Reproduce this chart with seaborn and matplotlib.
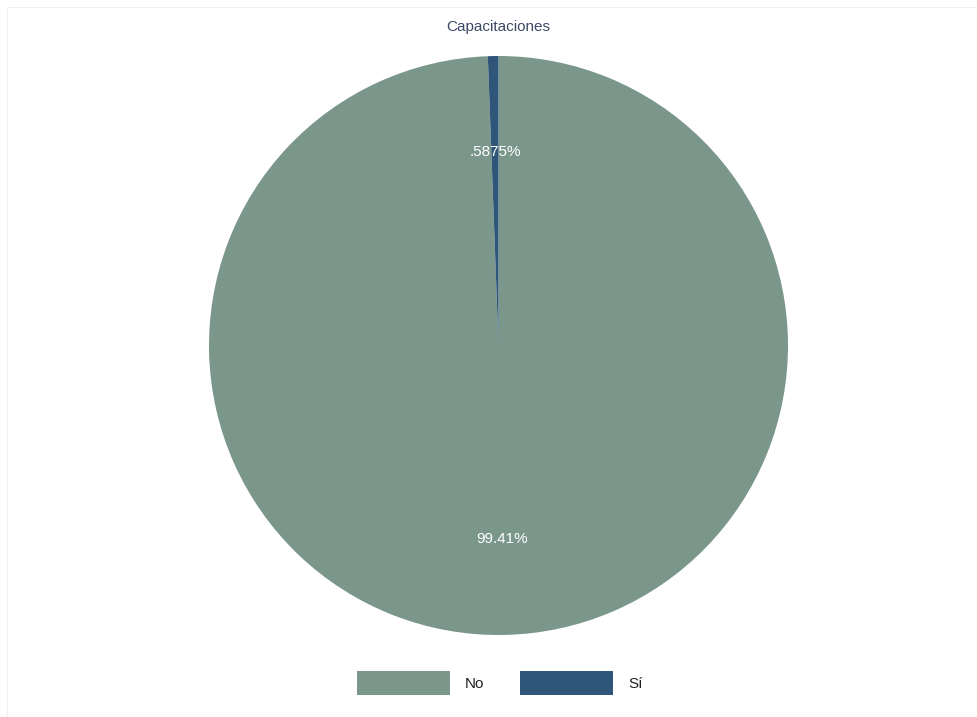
import matplotlib
matplotlib.use("Agg")
import matplotlib.pyplot as plt
from matplotlib.patches import Patch
from matplotlib.lines import Line2D
import seaborn as sns

# Survey answers: did the respondent receive training?
categories = ["No", "Sí"]
shares = [99.4125, 0.5875]
slice_colors = ["#7b978b", "#2f5579"]
chart_title = "Capacitaciones"


def pct_label(value):
    text = f"{value:.4g}"
    if text.startswith("0."):
        text = text[1:]
    return text + "%"


sns.set_theme(style="white")
plt.rcParams["font.family"] = ["Liberation Sans", "DejaVu Sans"]

W, H = 978, 717
fig = plt.figure(figsize=(W / 100, H / 100), dpi=100)
fig.patch.set_facecolor("white")

# faint outer frame (top and left edges)
fig.add_artist(Line2D([7 / W, 1], [1 - 7 / H, 1 - 7 / H], transform=fig.transFigure,
                      color="#f0f0f0", lw=0.8))
fig.add_artist(Line2D([7 / W, 7 / W], [0, 1 - 7 / H], transform=fig.transFigure,
                      color="#f0f0f0", lw=0.8))

radius_px = 289.5
cx, cy = 498.5, 345.5
ax = fig.add_axes([(cx - radius_px) / W, (H - cy - radius_px) / H,
                   2 * radius_px / W, 2 * radius_px / H])

label_iter = iter([pct_label(v) for v in shares])
wedges, _, autotexts = ax.pie(
    shares,
    colors=slice_colors,
    startangle=90,
    counterclock=False,
    radius=1.0,
    autopct=lambda p: next(label_iter),
    pctdistance=0.667,
    wedgeprops=dict(linewidth=0),
    textprops=dict(color="white", fontsize=11),
)
ax.set_xlim(-1, 1)
ax.set_ylim(-1, 1)
ax.set_aspect("equal")
ax.axis("off")

fig.text(cx / W, 1 - 27 / H, chart_title, ha="center", va="center",
         fontsize=11, color="#3b4866")

handles = [Patch(facecolor=c, edgecolor="none", label=lab)
           for c, lab in zip(slice_colors, categories)]
fig.legend(handles=handles, loc="center", bbox_to_anchor=((cx + 1) / W, 1 - 683 / H),
           ncol=2, frameon=False, fontsize=11, handlelength=6.1, handleheight=2.0,
           handletextpad=1.0, columnspacing=2.3, labelcolor="#222222")

fig.savefig("out.png", dpi=100, facecolor="white")
